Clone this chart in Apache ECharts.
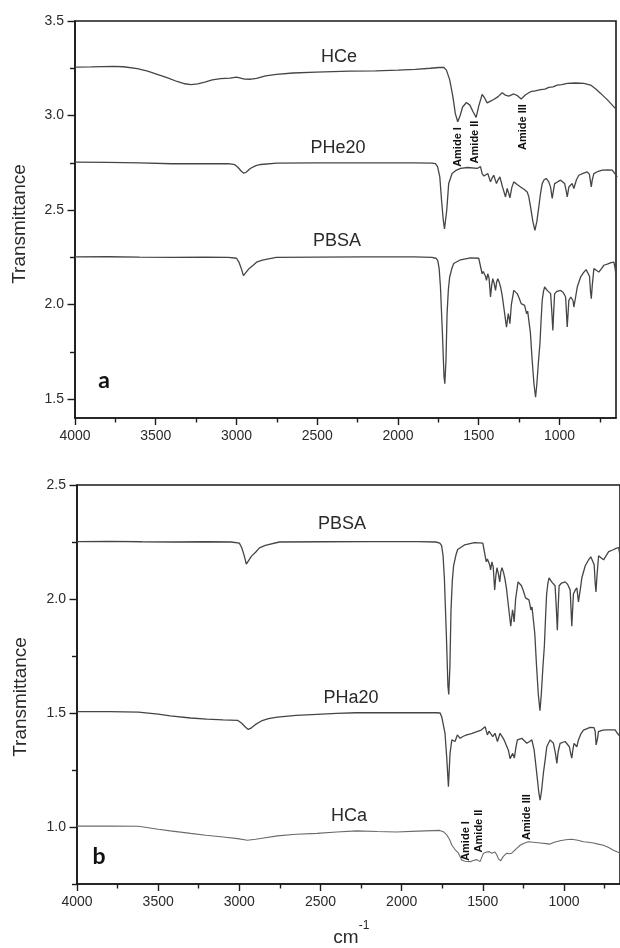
<!DOCTYPE html>
<html><head><meta charset="utf-8">
<script src="https://cdn.jsdelivr.net/npm/echarts@6/dist/echarts.min.js"></script>
<style>html,body{margin:0;padding:0;background:#fff}#c{width:620px;height:948px}</style>
</head><body><div id="c"></div>
<script>
// ---- tick values ----
const xTicks = [4000,3500,3000,2500,2000,1500,1000];
const xMinor = [3750,3250,2750,2250,1750,1250,750];
const yTicksA = [1.5,2.0,2.5,3.0,3.5];
const yMinorA = [1.75,2.25,2.75,3.25];
const yTicksB = [1.0,1.5,2.0,2.5];
const yMinorB = [0.75,1.25,1.75,2.25];

// ---- spectra: [wavenumber cm-1, transmittance] ----
const PBSA = [[4000,2.252],[3800,2.253],[3600,2.251],[3400,2.250],[3200,2.251],[3050,2.250],[3000,2.245],[2985,2.225],[2970,2.19],[2957,2.153],[2945,2.16],[2925,2.188],[2900,2.205],[2876,2.224],[2840,2.235],[2754,2.25],[2500,2.251],[2200,2.252],[1900,2.252],[1790,2.25],[1765,2.245],[1754,2.234],[1745,2.19],[1737,2.093],[1725,1.85],[1715,1.62],[1710,1.581],[1703,1.7],[1696,1.952],[1688,2.08],[1680,2.146],[1665,2.195],[1655,2.217],[1613,2.237],[1551,2.247],[1500,2.245],[1489,2.243],[1479,2.163],[1472,2.175],[1464,2.172],[1458,2.15],[1452,2.128],[1444,2.163],[1436,2.14],[1427,2.04],[1420,2.10],[1413,2.137],[1404,2.11],[1396,2.075],[1389,2.12],[1382,2.137],[1372,2.115],[1365,2.093],[1355,2.05],[1345,1.987],[1336,1.93],[1328,1.881],[1322,1.92],[1317,1.952],[1312,1.93],[1307,1.899],[1298,2.0],[1283,2.075],[1272,2.07],[1262,2.058],[1250,2.035],[1237,2.005],[1225,2.0],[1216,1.996],[1210,1.975],[1204,1.952],[1197,1.965],[1190,1.96],[1180,1.85],[1169,1.704],[1158,1.58],[1148,1.51],[1140,1.58],[1130,1.70],[1121,1.793],[1113,1.93],[1107,2.022],[1099,2.07],[1092,2.093],[1084,2.085],[1076,2.075],[1066,2.068],[1055,2.058],[1048,1.97],[1041,1.863],[1036,1.96],[1030,2.058],[1015,2.07],[993,2.075],[978,2.065],[962,2.04],[957,1.96],[952,1.881],[947,1.95],[942,2.022],[930,2.04],[921,2.049],[916,2.02],[911,1.987],[900,2.04],[890,2.093],[869,2.146],[850,2.17],[835,2.185],[824,2.19],[814,2.15],[808,2.07],[803,2.031],[797,2.1],[787,2.19],[770,2.18],[756,2.172],[740,2.19],[725,2.208],[700,2.215],[680,2.222],[663,2.225],[655,2.19],[650,2.146]];

const PHe20 = [[4000,2.753],[3800,2.752],[3600,2.750],[3400,2.745],[3200,2.745],[3050,2.746],[3010,2.74],[2990,2.725],[2970,2.705],[2955,2.695],[2940,2.70],[2915,2.72],[2880,2.735],[2850,2.741],[2750,2.748],[2500,2.75],[2200,2.75],[1900,2.75],[1790,2.748],[1768,2.746],[1755,2.73],[1741,2.675],[1730,2.55],[1720,2.45],[1712,2.40],[1706,2.402],[1698,2.50],[1686,2.64],[1665,2.693],[1640,2.71],[1613,2.72],[1568,2.725],[1510,2.72],[1489,2.73],[1479,2.693],[1468,2.68],[1458,2.675],[1444,2.693],[1427,2.649],[1417,2.67],[1407,2.684],[1390,2.64],[1380,2.66],[1369,2.675],[1352,2.62],[1334,2.569],[1324,2.614],[1315,2.59],[1307,2.565],[1295,2.62],[1283,2.649],[1262,2.635],[1241,2.622],[1220,2.61],[1200,2.596],[1190,2.57],[1179,2.517],[1165,2.44],[1152,2.393],[1140,2.44],[1128,2.517],[1117,2.59],[1107,2.64],[1095,2.66],[1082,2.667],[1066,2.649],[1055,2.62],[1045,2.561],[1038,2.60],[1030,2.64],[1010,2.65],[993,2.658],[968,2.64],[958,2.60],[952,2.569],[946,2.60],[942,2.622],[921,2.64],[911,2.614],[895,2.66],[880,2.684],[850,2.695],[828,2.702],[815,2.69],[808,2.65],[803,2.622],[797,2.66],[787,2.693],[760,2.705],[735,2.711],[700,2.712],[673,2.711],[655,2.69],[642,2.675]];

const HCe = [[4000,3.256],[3900,3.257],[3761,3.26],[3700,3.258],[3614,3.248],[3550,3.235],[3491,3.218],[3430,3.20],[3368,3.18],[3320,3.168],[3282,3.163],[3240,3.167],[3196,3.177],[3150,3.188],[3098,3.195],[3040,3.198],[3000,3.203],[2975,3.198],[2950,3.193],[2910,3.192],[2876,3.196],[2820,3.21],[2753,3.218],[2650,3.225],[2507,3.23],[2300,3.235],[2139,3.236],[2000,3.24],[1893,3.244],[1800,3.25],[1745,3.254],[1717,3.255],[1700,3.24],[1680,3.19],[1660,3.10],[1645,3.01],[1630,2.967],[1615,3.00],[1600,3.045],[1576,3.069],[1555,3.055],[1535,3.02],[1516,2.99],[1500,3.05],[1479,3.112],[1465,3.095],[1448,3.067],[1430,3.075],[1407,3.085],[1380,3.10],[1355,3.12],[1335,3.108],[1314,3.103],[1283,3.114],[1260,3.105],[1237,3.087],[1210,3.11],[1179,3.126],[1150,3.13],[1117,3.137],[1090,3.14],[1066,3.149],[1040,3.152],[1014,3.161],[985,3.163],[952,3.17],[900,3.172],[849,3.17],[807,3.161],[775,3.14],[745,3.117],[700,3.08],[663,3.046],[650,3.034]];

const PHa20 = [[4000,1.506],[3800,1.506],[3621,1.504],[3500,1.495],[3426,1.487],[3300,1.478],[3200,1.473],[3100,1.47],[3011,1.468],[2985,1.455],[2965,1.44],[2945,1.428],[2925,1.435],[2900,1.45],[2864,1.465],[2820,1.475],[2766,1.482],[2650,1.49],[2522,1.494],[2400,1.498],[2278,1.501],[2000,1.502],[1789,1.501],[1763,1.50],[1752,1.48],[1733,1.411],[1722,1.30],[1712,1.177],[1708,1.175],[1702,1.323],[1691,1.382],[1680,1.38],[1671,1.375],[1657,1.404],[1640,1.389],[1620,1.398],[1599,1.404],[1570,1.41],[1537,1.418],[1510,1.425],[1486,1.44],[1472,1.404],[1462,1.42],[1455,1.426],[1439,1.396],[1425,1.411],[1410,1.375],[1394,1.411],[1380,1.395],[1369,1.382],[1343,1.338],[1332,1.30],[1326,1.294],[1316,1.323],[1306,1.302],[1296,1.35],[1287,1.382],[1260,1.389],[1229,1.367],[1212,1.375],[1198,1.382],[1184,1.338],[1168,1.236],[1155,1.15],[1147,1.118],[1138,1.16],[1127,1.236],[1115,1.30],[1106,1.352],[1086,1.382],[1065,1.367],[1052,1.32],[1044,1.279],[1036,1.33],[1024,1.367],[993,1.375],[967,1.352],[958,1.32],[952,1.302],[945,1.34],[938,1.367],[921,1.352],[911,1.382],[895,1.41],[880,1.425],[839,1.437],[815,1.436],[808,1.42],[802,1.36],[798,1.352],[793,1.39],[788,1.418],[760,1.425],[737,1.426],[685,1.426],[670,1.41],[654,1.396]];

const HCa = [[4000,1.004],[3800,1.004],[3621,1.003],[3500,0.99],[3426,0.983],[3300,0.972],[3206,0.964],[3100,0.956],[3011,0.949],[2950,0.942],[2900,0.946],[2850,0.952],[2766,0.961],[2650,0.968],[2522,0.972],[2400,0.978],[2278,0.983],[2150,0.98],[2033,0.978],[1900,0.982],[1765,0.985],[1740,0.978],[1722,0.965],[1705,0.945],[1691,0.921],[1670,0.90],[1650,0.885],[1630,0.855],[1610,0.85],[1578,0.848],[1560,0.853],[1537,0.857],[1517,0.848],[1505,0.87],[1496,0.885],[1476,0.89],[1460,0.892],[1445,0.885],[1425,0.89],[1412,0.875],[1404,0.86],[1390,0.852],[1375,0.87],[1353,0.885],[1335,0.883],[1322,0.885],[1305,0.897],[1291,0.906],[1270,0.92],[1250,0.928],[1219,0.935],[1190,0.933],[1147,0.93],[1110,0.927],[1086,0.925],[1060,0.933],[1024,0.94],[990,0.944],[952,0.946],[915,0.942],[880,0.935],[850,0.933],[818,0.93],[790,0.925],[757,0.92],[725,0.91],[695,0.898],[670,0.89],[654,0.885]];

const FONT = 'Liberation Sans, Arial, sans-serif';
const AX = '#1a1a1a';
const LINE = '#454545';

function xAxis(grid, min, minor) {
  return {
    type: 'value', gridIndex: grid, inverse: true, min: min, max: 4000, position: 'bottom',
    axisLine: { show: !minor, onZero: false, lineStyle: { color: AX, width: 1.6 } },
    axisTick: { show: true, inside: false, length: minor ? 4.5 : 7, customValues: minor ? xMinor : xTicks,
                lineStyle: { color: AX, width: 1.4 } },
    axisLabel: { show: !minor, customValues: xTicks, margin: 11, fontSize: 14, color: '#2a2a2a', fontFamily: FONT,
                 formatter: v => String(Math.round(v)) },
    splitLine: { show: false }
  };
}
function yAxis(grid, min, max, ticks, minorTicks, minor) {
  return {
    type: 'value', gridIndex: grid, min: min, max: max, position: 'left',
    axisLine: { show: !minor, onZero: false, lineStyle: { color: AX, width: 1.6 } },
    axisTick: { show: true, inside: false, length: minor ? 5 : 7.5, customValues: minor ? minorTicks : ticks,
                lineStyle: { color: AX, width: 1.4 } },
    axisLabel: { show: !minor, customValues: ticks, margin: 11, fontSize: 14, color: '#2a2a2a', fontFamily: FONT,
                 formatter: v => Number(v).toFixed(1) },
    splitLine: { show: false }
  };
}
function spec(data, xi, yi, color, w) {
  return { type: 'line', data: data, xAxisIndex: xi, yAxisIndex: yi, showSymbol: false, symbol: 'none',
           clip: true, lineStyle: { color: color || LINE, width: w || 1.3 }, silent: true };
}
function txt(x, y, s, size, opts) {
  opts = opts || {};
  return { type: 'text', x: x, y: y, rotation: opts.rot || 0, silent: true, z: 100,
           style: { text: s, fontSize: size, fontFamily: opts.family || FONT, fontWeight: opts.bold ? 'bold' : 'normal',
                    fill: opts.fill || '#2a2a2a', align: 'center', verticalAlign: 'middle' } };
}
const R = Math.PI / 2;
const AM = { rot: R, bold: true, fill: '#111' };
const LET = { bold: true, family: 'Lato, ' + FONT, fill: '#111' };

const option = {
  backgroundColor: '#fff',
  animation: false,
  grid: [
    { left: 75, top: 21, width: 541, height: 397, show: true, borderColor: AX, borderWidth: 1.6, containLabel: false },
    { left: 77, top: 485, width: 543, height: 399, show: true, borderColor: AX, borderWidth: 1.6, containLabel: false }
  ],
  xAxis: [ xAxis(0, 650, false), xAxis(0, 650, true), xAxis(1, 655, false), xAxis(1, 655, true) ],
  yAxis: [ yAxis(0, 1.4, 3.5, yTicksA, yMinorA, false), yAxis(0, 1.4, 3.5, yTicksA, yMinorA, true),
           yAxis(1, 0.75, 2.5, yTicksB, yMinorB, false), yAxis(1, 0.75, 2.5, yTicksB, yMinorB, true) ],
  series: [
    spec(HCe, 0, 0), spec(PHe20, 0, 0), spec(PBSA, 0, 0),
    spec(PBSA, 2, 2), spec(PHa20, 2, 2), spec(HCa, 2, 2, '#6a6a6a', 1.1)
  ],
  graphic: [
    txt(20, 224, 'Transmittance', 19, { rot: R }),
    txt(21, 697, 'Transmittance', 19, { rot: R }),
    txt(339, 57, 'HCe', 18), txt(338, 148, 'PHe20', 18), txt(337, 241, 'PBSA', 18),
    txt(104, 381, 'a', 23, LET),
    txt(458, 147, 'Amide I', 11, AM),
    txt(475, 142, 'Amide II', 11, AM),
    txt(523, 127, 'Amide III', 11, AM),
    txt(342, 524, 'PBSA', 18), txt(351, 698, 'PHa20', 18), txt(349, 816, 'HCa', 18),
    txt(99, 857, 'b', 23, LET),
    txt(466, 841, 'Amide I', 11, AM),
    txt(479, 831, 'Amide II', 11, AM),
    txt(527, 817, 'Amide III', 11, AM),
    txt(346, 938, 'cm', 19), txt(364, 926, '-1', 12)
  ]
};
const chart = echarts.init(document.getElementById('c'), null, { renderer: 'canvas' });
chart.setOption(option);
</script></body></html>
